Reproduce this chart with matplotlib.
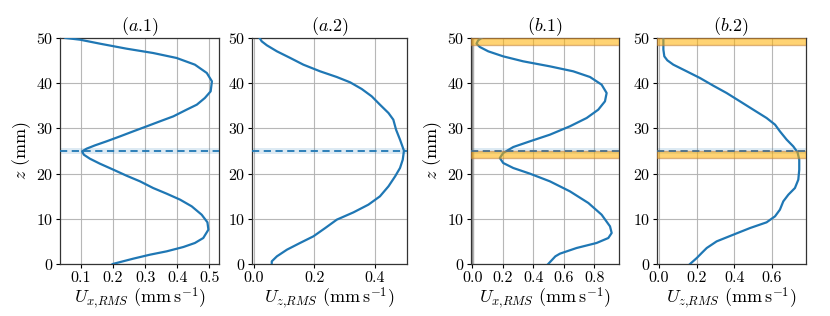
import numpy as np
import matplotlib
matplotlib.use("Agg")
import matplotlib.pyplot as plt

plt.rcParams['font.family'] = 'serif'
plt.rcParams['font.serif'] = ['cmr10']
plt.rcParams['mathtext.fontset'] = 'cm'
plt.rcParams['axes.formatter.use_mathtext'] = True

# ---- data ----
z_a1 = [50, 49.63, 48.75, 47.64, 46.68, 45.58, 44.1, 42.26, 40.41, 38.2, 36.73, 35.25, 34.14, 32.67,
        31.56, 30.46, 29.35, 28.24, 27.14, 26.25, 25.52, 24.93, 24.19, 23.3, 22.2, 20.87, 19.54, 18.29,
        16.81, 15.56, 14.23, 12.76, 10.91, 9.22, 7.6, 5.75, 4.65, 3.76, 2.8, 2.06, 1.18, 0]
ux_a1 = [0.052, 0.097, 0.159, 0.242, 0.325, 0.398, 0.455, 0.492, 0.508, 0.504, 0.486, 0.461, 0.429, 0.388,
         0.346, 0.305, 0.263, 0.222, 0.18, 0.144, 0.118, 0.104, 0.109, 0.128, 0.159, 0.201, 0.242, 0.284,
         0.325, 0.367, 0.409, 0.445, 0.476, 0.494, 0.497, 0.481, 0.455, 0.419, 0.367, 0.315, 0.263, 0.199]

z_a2 = [50, 49.26, 48.38, 47.05, 45.58, 44.1, 42.63, 41.37, 40.19, 38.72, 37.09, 35.25, 33.41, 31.93,
        29.72, 27.51, 25.07, 23.08, 21.24, 19.4, 17.18, 14.97, 13.13, 11.43, 9.81, 7.96, 6.12, 4.65,
        3.17, 1.7, 0.59, 0]
uz_a2 = [0.02, 0.027, 0.044, 0.077, 0.121, 0.164, 0.219, 0.274, 0.318, 0.356, 0.389, 0.416, 0.444, 0.46,
         0.469, 0.482, 0.495, 0.491, 0.482, 0.466, 0.444, 0.416, 0.378, 0.329, 0.274, 0.236, 0.197, 0.153,
         0.11, 0.077, 0.06, 0.06]

z_b1 = [50, 49.48, 48.75, 48.01, 47.05, 45.94, 44.84, 43.73, 42.63, 41.37, 39.68, 37.83, 35.99, 34.14,
        32.3, 30.46, 28.61, 27.14, 25.88, 24.56, 23.45, 22.35, 21.24, 19.99, 18.29, 16.08, 13.5, 10.91,
        8.33, 6.86, 5.75, 4.65, 3.54, 2.29, 1.7, 0]
ux_b1 = [0.061, 0.039, 0.028, 0.05, 0.105, 0.203, 0.334, 0.509, 0.662, 0.772, 0.848, 0.881, 0.87, 0.826,
         0.75, 0.64, 0.509, 0.378, 0.269, 0.203, 0.181, 0.203, 0.269, 0.378, 0.509, 0.64, 0.761, 0.848,
         0.903, 0.914, 0.892, 0.815, 0.684, 0.575, 0.545, 0.498]

z_b2 = [50, 47.42, 45.94, 45.06, 44.1, 42.63, 41.15, 39.45, 37.83, 35.99, 34.14, 32.3, 30.83, 29.35,
        27.51, 26.03, 24.71, 23.08, 20.87, 18.66, 16.81, 15.34, 13.86, 12.02, 10.55, 9.22, 7.96, 6.49,
        5.01, 3.54, 2.43, 1.33, 0]
uz_b2 = [0.023, 0.023, 0.028, 0.044, 0.076, 0.147, 0.218, 0.289, 0.36, 0.431, 0.502, 0.573, 0.618, 0.644,
         0.68, 0.715, 0.738, 0.747, 0.747, 0.742, 0.724, 0.689, 0.662, 0.644, 0.618, 0.573, 0.485, 0.396,
         0.307, 0.254, 0.227, 0.201, 0.165]

titles = [r'($a$.1)', r'($a$.2)', r'($b$.1)', r'($b$.2)']
xlabels = [r'$U_{x{,}RMS}$ (mm$\,$s$^{-1}$)', r'$U_{z{,}RMS}$ (mm$\,$s$^{-1}$)',
           r'$U_{x{,}RMS}$ (mm$\,$s$^{-1}$)', r'$U_{z{,}RMS}$ (mm$\,$s$^{-1}$)']
xticks = [[0.1, 0.2, 0.3, 0.4, 0.5], [0.0, 0.2, 0.4], [0.0, 0.2, 0.4, 0.6, 0.8], [0.0, 0.2, 0.4, 0.6]]
xlims = [(0.035, 0.53), (-0.005, 0.505), (-0.008, 0.962), (-0.011, 0.783)]
interface = 25.0
band_blue = (24.3, 25.7)
bands_orange = [(48.5, 50.0), (23.5, 25.0)]

fig = plt.figure(figsize=(8.3, 3.16), dpi=100)
rects = [(60, 159), (252, 155), (471, 148), (657, 149)]
axes = []
for (l, w) in rects:
    axes.append(fig.add_axes([l / 830, 1 - 264 / 316, w / 830, 226 / 316]))

series = [(ux_a1, z_a1), (uz_a2, z_a2), (ux_b1, z_b1), (uz_b2, z_b2)]
for i, ax in enumerate(axes):
    x, z = series[i]
    ax.plot(x, z, color='#1f77b4', lw=1.6, zorder=3, solid_joinstyle='round')
    ax.axhspan(*band_blue, color='#1f77b4', alpha=0.15, lw=0, zorder=2)
    if i >= 2:
        for b in bands_orange:
            ax.axhspan(*b, facecolor='#ffb000', edgecolor='#c08040', alpha=0.55, lw=1.0, zorder=4)
        ax.axhline(interface, color='#4a6f8a', ls='--', lw=1.3, dashes=(4, 2.5), zorder=5)
    else:
        ax.axhline(interface, color='#1f77b4', ls='--', lw=1.3, dashes=(4, 2.5), zorder=5)
    if i == 2:
        ax.axvline(0, color='gray', lw=2.5, alpha=0.6, zorder=2)
    ax.set_xlim(*xlims[i])
    ax.set_ylim(0, 50)
    ax.set_xticks(xticks[i])
    ax.set_xticklabels([f'{t:.1f}' for t in xticks[i]])
    ax.set_yticks([0, 10, 20, 30, 40, 50])
    ax.grid(True, color='#b0b0b0', lw=0.8, alpha=0.9, zorder=1)
    ax.set_axisbelow(True)
    ax.tick_params(labelsize=11.5, length=3, width=0.8, pad=2)
    for s in ax.spines.values():
        s.set_linewidth(0.9)
        s.set_color('#333333')
    ax.set_title(titles[i], fontsize=13, pad=3)
    ax.set_xlabel(xlabels[i], fontsize=13, labelpad=1)
    if i in (0, 2):
        ax.set_ylabel(r'$z$ (mm)', fontsize=13, labelpad=2)

fig.savefig('out.png', dpi=100)
